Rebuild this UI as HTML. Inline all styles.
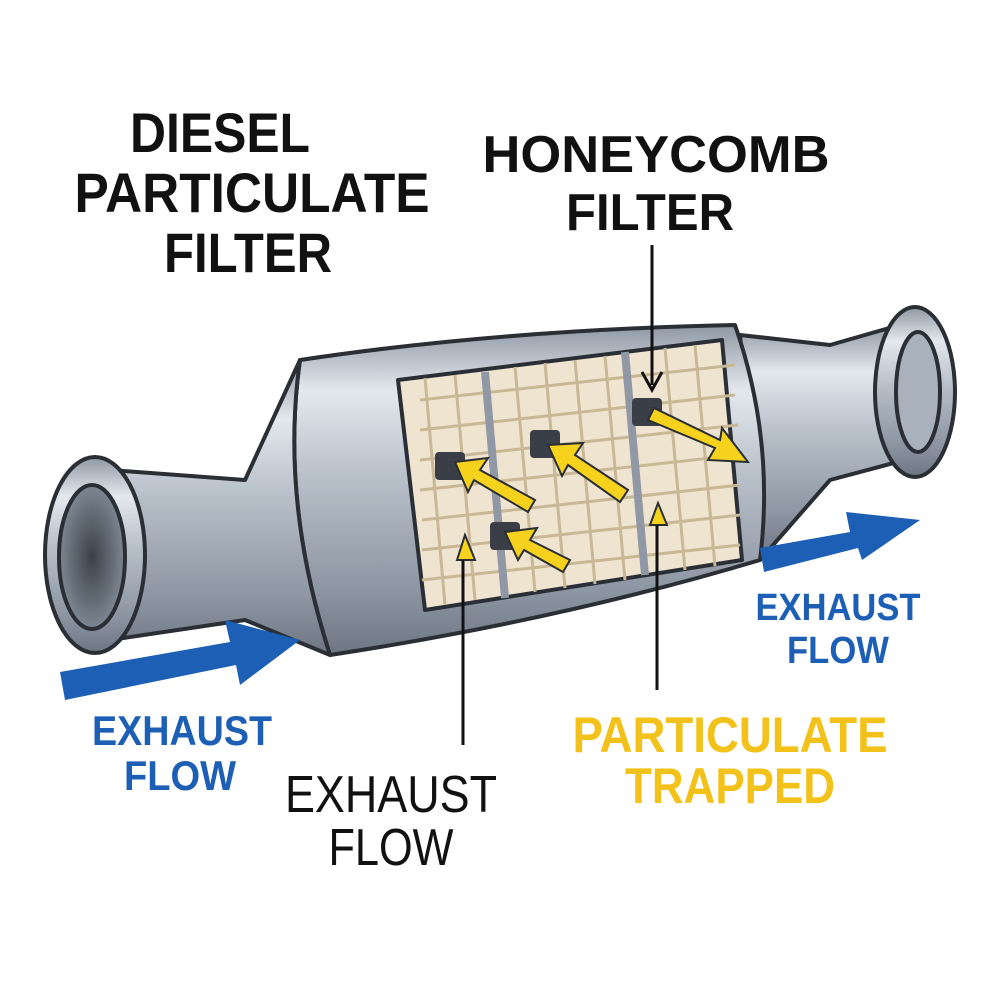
<!DOCTYPE html>
<html><head><meta charset="utf-8"><style>
html,body{margin:0;padding:0;background:#fff;}
svg{display:block;}
text{font-family:"Liberation Sans",sans-serif;}
</style></head><body>
<svg width="1000" height="1000" viewBox="0 0 1000 1000" xmlns="http://www.w3.org/2000/svg">
<defs>
<linearGradient id="metal" x1="0" y1="0" x2="0" y2="1">
<stop offset="0" stop-color="#8e97a3"/><stop offset="0.2" stop-color="#e4e8ee"/><stop offset="0.45" stop-color="#b9c1cb"/><stop offset="0.8" stop-color="#8d96a2"/><stop offset="1" stop-color="#6d7682"/>
</linearGradient>
<radialGradient id="hole" cx="0.5" cy="0.5" r="0.5"><stop offset="0" stop-color="#3b414a"/><stop offset="1" stop-color="#7d8792"/></radialGradient>
</defs>
<g stroke="#2a2e35" stroke-width="4" stroke-linejoin="round">
<path d="M740 335 L830 345 L900 325 L905 460 L830 480 L760 560 Z" fill="url(#metal)"/>
<ellipse cx="915" cy="392" rx="40" ry="85" fill="url(#metal)"/>
<ellipse cx="918" cy="392" rx="22" ry="60" fill="#a9b2bc"/>
<path d="M300 360 Q 500 330 735 325 Q 775 440 760 560 Q 560 620 330 655 Q 280 500 300 360 Z" fill="url(#metal)"/>
<path d="M300 360 L245 480 L110 470 L110 640 L245 620 L330 655 Q 280 500 300 360 Z" fill="url(#metal)"/>
<ellipse cx="95" cy="555" rx="50" ry="98" fill="url(#metal)"/>
<ellipse cx="92" cy="557" rx="33" ry="72" fill="url(#hole)"/>
<path d="M398 380 L722 340 L742 560 L425 610 Z" fill="#efe4cf"/>
</g>
<g stroke="#c9b896" stroke-width="3">
<line x1="420" y1="400" x2="735" y2="365"/><line x1="420" y1="430" x2="735" y2="395"/><line x1="420" y1="460" x2="738" y2="425"/>
<line x1="420" y1="490" x2="738" y2="455"/><line x1="422" y1="520" x2="740" y2="485"/><line x1="422" y1="550" x2="740" y2="515"/><line x1="422" y1="580" x2="740" y2="545"/>
<line x1="425" y1="378" x2="445" y2="605"/><line x1="455" y1="375" x2="475" y2="600"/><line x1="515" y1="367" x2="535" y2="592"/><line x1="545" y1="363" x2="565" y2="588"/><line x1="575" y1="360" x2="595" y2="584"/><line x1="605" y1="356" x2="625" y2="580"/><line x1="665" y1="348" x2="685" y2="570"/><line x1="695" y1="345" x2="715" y2="566"/>
</g>
<g stroke="#8f98a4" stroke-width="8"><line x1="485" y1="372" x2="505" y2="598"/><line x1="625" y1="352" x2="645" y2="575"/></g>
<g fill="#3a3f47"><rect x="435" y="452" width="30" height="28" rx="4"/><rect x="530" y="430" width="30" height="28" rx="4"/><rect x="490" y="522" width="30" height="28" rx="4"/><rect x="632" y="398" width="30" height="28" rx="4"/></g>
<g fill="#f6d21c" stroke="#2a2e35" stroke-width="2">
<path d="M535 500 L480 470 L488 458 L455 462 L468 492 L474 480 L528 512 Z"/>
<path d="M628 490 L575 455 L583 443 L548 445 L562 476 L568 465 L620 502 Z"/>
<path d="M570 560 L530 540 L537 528 L505 532 L518 560 L524 550 L563 572 Z"/>
<path d="M648 420 L715 448 L708 460 L748 462 L722 428 L720 440 L654 408 Z"/>
<path d="M457 560 L465 535 L475 560 Z"/><path d="M650 525 L658 503 L667 525 Z"/>
</g>
<path d="M60 672 L230 642 L225 620 L300 640 L240 685 L236 665 L65 700 Z" fill="#1d5fb5"/>
<path d="M760 548 L850 532 L846 512 L920 520 L862 560 L858 548 L764 572 Z" fill="#1d5fb5"/>
<g stroke="#111" stroke-width="3" fill="none">
<line x1="463" y1="560" x2="463" y2="745"/><line x1="657" y1="525" x2="657" y2="690"/><line x1="652" y1="245" x2="652" y2="385"/>
<path d="M642 372 L652 390 L662 372"/>
</g>
<g font-weight="bold" fill="#111" text-anchor="middle" lengthAdjust="spacingAndGlyphs">
<text x="220" y="152" font-size="56" textLength="180" lengthAdjust="spacingAndGlyphs">DIESEL</text>
<text x="252" y="212" font-size="56" textLength="355" lengthAdjust="spacingAndGlyphs">PARTICULATE</text>
<text x="248" y="272" font-size="56" textLength="168" lengthAdjust="spacingAndGlyphs">FILTER</text>
<text x="656" y="172" font-size="52" textLength="347" lengthAdjust="spacingAndGlyphs">HONEYCOMB</text>
<text x="650" y="230" font-size="52" textLength="168" lengthAdjust="spacingAndGlyphs">FILTER</text>
</g>
<g font-weight="bold" fill="#1d5fb5" text-anchor="middle">
<text x="182" y="745" font-size="42" textLength="180" lengthAdjust="spacingAndGlyphs">EXHAUST</text><text x="180" y="790" font-size="42" textLength="112" lengthAdjust="spacingAndGlyphs">FLOW</text>
<text x="838" y="620" font-size="38" textLength="165" lengthAdjust="spacingAndGlyphs">EXHAUST</text><text x="838" y="663" font-size="38" textLength="102" lengthAdjust="spacingAndGlyphs">FLOW</text>
</g>
<g fill="#111" text-anchor="middle"><text x="391" y="812" font-size="52" textLength="212" lengthAdjust="spacingAndGlyphs">EXHAUST</text><text x="391" y="865" font-size="52" textLength="125" lengthAdjust="spacingAndGlyphs">FLOW</text></g>
<g font-weight="bold" fill="#f2c21a" text-anchor="middle"><text x="730" y="752" font-size="50" textLength="315" lengthAdjust="spacingAndGlyphs">PARTICULATE</text><text x="730" y="803" font-size="50" textLength="210" lengthAdjust="spacingAndGlyphs">TRAPPED</text></g>
</svg>
</body></html>
